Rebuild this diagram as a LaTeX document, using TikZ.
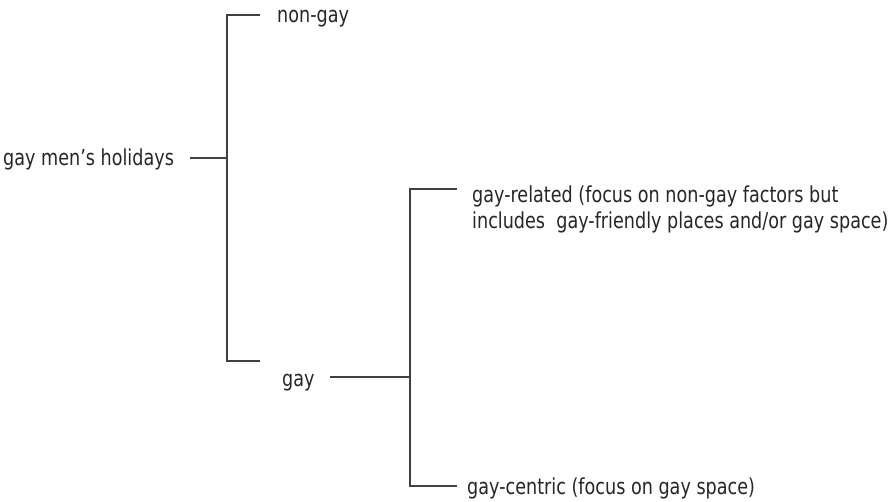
\documentclass[tikz,border=0pt]{standalone}
\usepackage{fontspec}
\setmainfont[FakeStretch=0.8]{DejaVu Sans}
\begin{document}
\begin{tikzpicture}[x=1pt, y=-1pt, lbl/.style = {anchor=base west, inner sep=0pt, font=\fontsize{22}{26}\selectfont, text=black!85}, branch/.style = {draw=black!75, line width=2pt}]
		\useasboundingbox (0,0) rectangle (896,502);
		\node[lbl] (holidays) at (3,166) {gay men's holidays};
		\node[lbl] (nongay) at (277,23) {non-gay};
		\node[lbl] (gay) at (282,386) {gay};
		\node[lbl, align=left] (related) at (472,229) {gay-related (focus on non-gay factors but\\includes\ \ gay-friendly places and/or gay space)};
		\node[lbl] (centric) at (467,494) {gay-centric (focus on gay space)};
		\coordinate (h0) at (190,158);
		\coordinate (j1) at (227,158);
		\coordinate (n0) at (260,15);
		\coordinate (g0) at (260,361);
		\coordinate (g1) at (330,377);
		\coordinate (j2) at (410,377);
		\coordinate (r0) at (457,189);
		\coordinate (c0) at (457,486);
		\draw[branch] (h0) -- (j1);
		\draw[branch] (n0) -| (j1) |- (g0);
		\draw[branch] (g1) -- (j2);
		\draw[branch] (r0) -| (j2) |- (c0);
	\end{tikzpicture}
\end{document}
